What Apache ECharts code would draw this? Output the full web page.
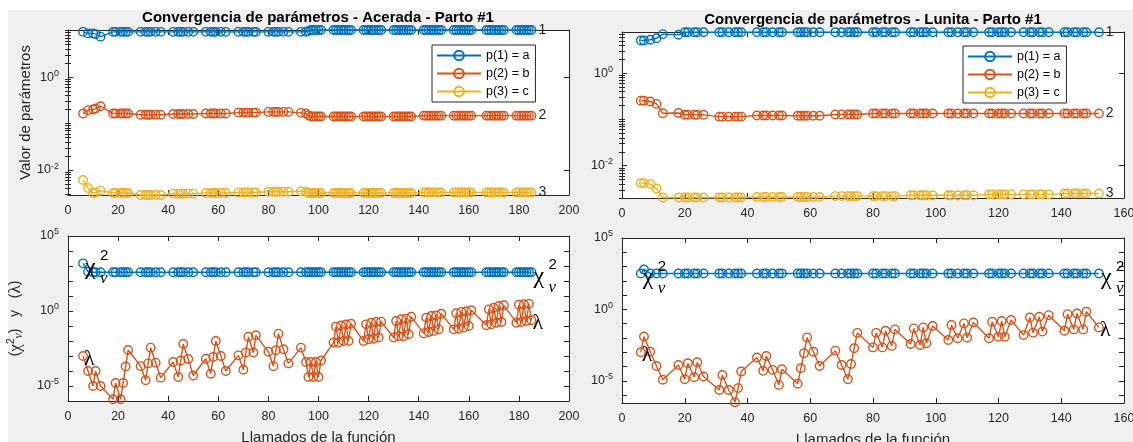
<!DOCTYPE html>
<html><head><meta charset="utf-8">
<script src="https://cdn.jsdelivr.net/npm/echarts@6/dist/echarts.min.js"></script>
<style>
html,body{margin:0;padding:0;background:#fff;width:1133px;height:442px;overflow:hidden}
#bg{position:absolute;left:8px;top:10px;width:1125px;height:432px;background:#f0f0f0}
#main{position:absolute;left:0;top:0;width:1133px;height:442px}
</style></head>
<body><div id="bg"></div><div id="main"></div>
<script>
// ---------------- DATA ----------------
const titleL = 'Convergencia de parámetros - Acerada - Parto #1';
const titleR = 'Convergencia de parámetros - Lunita - Parto #1';
const legendNames = ['p(1) = a', 'p(2) = b', 'p(3) = c'];
const endLabels = ['1', '2', '3'];
const xTicksL = [0, 20, 40, 60, 80, 100, 120, 140, 160, 180, 200];
const xTicksR = [0, 20, 40, 60, 80, 100, 120, 140, 160];
const yLabelsTop = [0.01, 1];
const yLabelsBottom = [1e-5, 1, 1e5];

// Left (Acerada)
const xL = [6,8,10,11,13, 18,19,21,22,23,24, 29,31,32,33,35,37, 42,44,45,46,48,50, 55,57,58,59,61,63,
  68,70,71,72,74,75, 80,82,83,84,86,88, 93,95,96,97,98,99,100,101,
  106,107,108,109,110,111,112,113, 118,119,120,121,122,123,124,125, 130,131,132,133,134,135,136,137,
  142,143,144,145,146,147,148,149, 154,155,156,157,158,159,160,161, 167,168,169,170,171,172,173,174,
  179,180,181,182,183,184,185];
const aL = [9.4,8.7,8.7,8.4,7.4, 9.4,9.4,9.4,9.4,9.4,9.4, 9.4,9.4,9.4,9.4,9.4,9.4, 9.4,9.4,9.4,9.4,9.4,9.4,
  9.4,9.4,9.4,9.4,9.4,9.4, 9.4,9.4,9.4,9.4,9.4,9.4, 9.4,9.4,9.4,9.4,9.4,9.4, 9.4,9.4,9.8,10.3,10.3,10.3,10.3,10.3,
  10.3,10.3,10.3,10.3,10.3,10.3,10.3,10.3, 10.3,10.3,10.3,10.3,10.3,10.3,10.3,10.3, 10.3,10.3,10.3,10.3,10.3,10.3,10.3,10.3,
  10.3,10.3,10.3,10.3,10.3,10.3,10.3,10.3, 10.3,10.3,10.3,10.3,10.3,10.3,10.3,10.3, 10.3,10.3,10.3,10.3,10.3,10.3,10.3,10.3,
  10.3,10.3,10.3,10.3,10.3,10.3,10.3];
const bL = [0.164,0.194,0.2,0.21,0.236, 0.164,0.164,0.164,0.164,0.164,0.164, 0.155,0.155,0.155,0.155,0.155,0.155,
  0.16,0.16,0.16,0.16,0.16,0.16, 0.164,0.164,0.164,0.164,0.164,0.164, 0.172,0.172,0.172,0.172,0.172,0.172,
  0.178,0.178,0.178,0.178,0.178,0.178, 0.17,0.165,0.15,0.142,0.142,0.142,0.142,0.142,
  0.142,0.142,0.142,0.142,0.142,0.142,0.142,0.142, 0.142,0.142,0.142,0.142,0.142,0.142,0.142,0.142, 0.142,0.142,0.142,0.142,0.142,0.142,0.142,0.142,
  0.148,0.148,0.148,0.148,0.148,0.148,0.148,0.148, 0.148,0.148,0.148,0.148,0.148,0.148,0.148,0.148, 0.148,0.148,0.148,0.148,0.148,0.148,0.148,0.148,
  0.148,0.148,0.148,0.148,0.148,0.148,0.148];
const cL = [0.0061,0.0041,0.0032,0.0033,0.0036, 0.0032,0.0032,0.0032,0.0032,0.0032,0.0032, 0.0029,0.0029,0.0029,0.0029,0.0029,0.0029,
  0.0031,0.0031,0.0031,0.0031,0.0031,0.0031, 0.0032,0.0032,0.0032,0.0032,0.0032,0.0032, 0.0033,0.0033,0.0033,0.0033,0.0033,0.0033,
  0.0034,0.0034,0.0034,0.0034,0.0034,0.0034, 0.0035,0.0034,0.0032,0.0032,0.0032,0.0032,0.0032,0.0032,
  0.0032,0.0032,0.0032,0.0032,0.0032,0.0032,0.0032,0.0032, 0.0032,0.0032,0.0032,0.0032,0.0032,0.0032,0.0032,0.0032, 0.0032,0.0032,0.0032,0.0032,0.0032,0.0032,0.0032,0.0032,
  0.0033,0.0033,0.0033,0.0033,0.0033,0.0033,0.0033,0.0033, 0.0033,0.0033,0.0033,0.0033,0.0033,0.0033,0.0033,0.0033, 0.0033,0.0033,0.0033,0.0033,0.0033,0.0033,0.0033,0.0033,
  0.0033,0.0033,0.0033,0.0033,0.0033,0.0033,0.0033];
const chiL = [1500,420,380,380,380, 380,380,380,380,380,380, 380,380,380,380,380,380, 380,380,380,380,380,380,
  380,380,380,380,380,380, 380,380,380,380,380,380, 380,380,380,380,380,380, 380,380,380,380,380,380,380,380,
  380,380,380,380,380,380,380,380, 380,380,380,380,380,380,380,380, 380,380,380,380,380,380,380,380,
  380,380,380,380,380,380,380,380, 380,380,380,380,380,380,380,380, 380,380,380,380,380,380,380,380,
  380,380,380,380,380,380,380];
const lamL = [1.0e-3,1.0e-4,1.0e-5,1.0e-4,1.0e-5,
  1.3e-6,1.6e-5,1.3e-6,1.6e-5,2.0e-4,2.5e-3,
  2.1e-4,2.4e-5,3.2e-4,3.6e-3,3.6e-4,3.6e-5,
  4.0e-4,4.0e-5,5.0e-4,6.3e-3,6.3e-4,5.0e-5,
  6.6e-4,6.6e-5,8.5e-4,1.0e-2,1.0e-3,1.0e-4,
  1.1e-3,1.2e-4,1.7e-3,1.9e-2,1.7e-3,2.4e-2,
  1.9e-3,2.1e-4,2.4e-3,3.1e-2,2.8e-3,3.2e-4,
  3.6e-3,4.0e-4,4.0e-5,4.0e-4,4.0e-5,4.0e-4,4.0e-5,5.0e-4,
  7.9e-3,9.1e-2,7.9e-3,0.107,1.0e-2,0.126,1.0e-2,0.141,
  1.0e-2,0.129,1.3e-2,0.166,1.4e-2,0.186,1.7e-2,0.195,
  1.7e-2,0.214,2.1e-2,0.282,2.1e-2,0.309,2.8e-2,0.417,
  3.2e-2,0.363,4.0e-2,0.468,4.7e-2,0.513,6.0e-2,0.661,
  6.0e-2,0.708,6.6e-2,0.871,7.8e-2,0.955,0.1,1.12,
  0.112,1.29,0.129,1.66,0.166,2.14,0.186,2.4,
  0.166,2.6,0.186,2.8,0.214,3.0,0.24];

// Right (Lunita)
const xR = [6,7,9,11,13, 18,20,21,23,24,26, 31,32,34,36,37,38, 43,45,46,48,50,51, 56,57,58,59,61,63,
  68,70,72,73,74,75, 80,81,83,84,86,87, 92,93,95,96,97,99, 104,105,107,109,110,112,
  117,118,120,121,122,124, 128,130,131,133,134,136, 141,142,144,145,147,148, 152];
const aR = [5.1,5.1,5.3,5.7,7.0, 6.8,7.7,7.7,7.7,7.7,7.7, 7.7,7.7,7.7,7.7,7.7,7.7, 7.7,7.7,7.7,7.7,7.7,7.7,
  7.7,7.7,7.7,7.7,7.7,7.7, 7.7,7.7,7.7,7.7,7.7,7.7, 7.7,7.7,7.7,7.7,7.7,7.7, 7.7,7.7,7.7,7.7,7.7,7.7,
  7.7,7.7,7.7,7.7,7.7,7.7, 7.7,7.7,7.7,7.7,7.7,7.7, 7.7,7.7,7.7,7.7,7.7,7.7, 7.7,7.7,7.7,7.7,7.7,7.7, 7.7];
const bR = [0.255,0.255,0.245,0.217,0.136, 0.138,0.126,0.126,0.126,0.126,0.126, 0.115,0.115,0.115,0.115,0.115,0.115,
  0.122,0.122,0.122,0.122,0.122,0.122, 0.12,0.12,0.12,0.12,0.12,0.12, 0.128,0.128,0.128,0.128,0.128,0.128,
  0.135,0.135,0.135,0.135,0.135,0.135, 0.135,0.135,0.135,0.135,0.135,0.135, 0.135,0.135,0.135,0.135,0.135,0.135,
  0.135,0.135,0.135,0.135,0.135,0.135, 0.135,0.135,0.135,0.135,0.135,0.135, 0.135,0.135,0.135,0.135,0.135,0.135, 0.135];
const cR = [0.0042,0.0042,0.004,0.0032,0.00205, 0.00205,0.00205,0.00205,0.00205,0.00205,0.00205, 0.00205,0.00205,0.00205,0.00205,0.00205,0.00205,
  0.0021,0.0021,0.0021,0.0021,0.0021,0.0021, 0.0021,0.0021,0.0021,0.0021,0.0021,0.0021, 0.0022,0.0022,0.0022,0.0022,0.0022,0.0022,
  0.0022,0.0022,0.0022,0.0022,0.0022,0.0022, 0.0023,0.0023,0.0023,0.0023,0.0023,0.0023, 0.0023,0.0023,0.0023,0.0023,0.0023,0.0023,
  0.0024,0.0024,0.0024,0.0024,0.0024,0.0024, 0.0024,0.0024,0.0024,0.0024,0.0024,0.0024, 0.0025,0.0025,0.0025,0.0025,0.0025,0.0025, 0.0025];
const chiR = [330,630,330,330,330, 330,330,330,330,330,330, 330,330,330,330,330,330, 330,330,330,330,330,330,
  330,330,330,330,330,330, 330,330,330,330,330,330, 330,330,330,330,330,330, 330,330,330,330,330,330,
  330,330,330,330,330,330, 330,330,330,330,330,330, 330,330,330,330,330,330, 330,330,330,330,330,330, 330];
const lamR = [1.0e-3,1.26e-2,1.1e-3,1.1e-4,1.2e-5,
  1.3e-4,1.3e-5,1.7e-4,1.8e-5,2.0e-4,2.0e-5,
  2.3e-6,2.6e-5,2.3e-6,3.2e-7,3.1e-6,4.5e-5,
  4.3e-4,5.0e-5,5.5e-4,5.9e-5,5.2e-6,6.5e-5,
  6.2e-6,7.6e-5,8.5e-4,1.1e-2,1.1e-3,1.1e-4,
  1.3e-3,1.3e-4,1.3e-5,1.5e-4,1.9e-3,2.3e-2,
  2.2e-3,2.3e-2,2.2e-3,3.2e-2,2.8e-3,4.0e-2,
  3.8e-3,4.7e-2,3.2e-3,5.5e-2,4.3e-3,6.9e-2,
  7.2e-3,8.1e-2,9.5e-3,0.105,1.05e-2,0.123,
  9.5e-3,0.138,1.2e-2,0.155,1.2e-2,0.182,
  1.6e-2,0.275,2.3e-2,0.309,2.8e-2,0.398,
  3.2e-2,0.468,4.0e-2,0.525,4.0e-2,0.692,
  5.5e-2];

// ---------------- STYLE / BUILD ----------------
const COLORS = ['#0072BD', '#D95319', '#EDB120'];
const AXC = '#262626';
const SANS = '"Liberation Sans", Arial, sans-serif';
const SERIF = '"Liberation Serif", "Times New Roman", serif';
const LW = 1.4;

function logTicks(min, max, mults) {
  const out = [];
  for (let e = -8; e <= 6; e++) {
    for (const k of mults) {
      const v = k * Math.pow(10, e);
      if (v >= min * 0.9999 && v <= max * 1.0001) out.push(v);
    }
  }
  return out;
}
function powLabel(v) {
  const e = Math.round(Math.log10(v));
  return '{b|10}{e|' + e + '}';
}
const powRich = {
  b: { fontSize: 12.5, color: AXC, fontFamily: SANS },
  e: { fontSize: 9, color: AXC, fontFamily: SANS, padding: [0, 0, 8, 0] }
};

const grids = [
  { left: 68, top: 30, width: 501, height: 165 },
  { left: 68, top: 236, width: 501, height: 165 },
  { left: 622, top: 32, width: 502, height: 166 },
  { left: 622, top: 238, width: 502, height: 165 }
].map(g => Object.assign({ show: true, backgroundColor: '#fff', borderWidth: 0, containLabel: false, outerBoundsMode: 'none' }, g));

const xAxes = [], yAxes = [];
function addX(g, ticks, withName) {
  const base = { type: 'value', gridIndex: g, min: ticks[0], max: ticks[ticks.length - 1], interval: ticks[1] - ticks[0],
    axisLine: { show: true, onZero: false, lineStyle: { color: AXC, width: 1 } },
    axisTick: { show: true, inside: true, length: 5, lineStyle: { color: AXC } },
    splitLine: { show: false } };
  xAxes.push(Object.assign({}, base, { position: 'bottom',
    axisLabel: { show: true, fontSize: 12.5, color: AXC, fontFamily: SANS, margin: 9 },
    name: withName ? 'Llamados de la función' : '', nameLocation: 'middle', nameGap: 29,
    nameTextStyle: { fontSize: 15, color: AXC, fontFamily: SANS, verticalAlign: 'top' } }));
  xAxes.push(Object.assign({}, base, { position: 'top', axisLabel: { show: false } }));
  return xAxes.length - 2;
}
function addY(g, min, max, majors, minors, labels, name, nameGap, nameStyle) {
  const base = { type: 'log', logBase: 10, gridIndex: g, min: min, max: max,
    axisLine: { show: true, onZero: false, lineStyle: { color: AXC, width: 1 } },
    splitLine: { show: false }, minorTick: { show: false }, axisLabel: { show: false } };
  const idx = yAxes.length;
  yAxes.push(Object.assign({}, base, { position: 'left',
    axisTick: { show: true, inside: true, length: 5, customValues: majors, lineStyle: { color: AXC } },
    axisLabel: { show: true, customValues: labels, margin: 9, formatter: powLabel, rich: powRich },
    name: name || '', nameLocation: 'middle', nameGap: nameGap || 0, nameRotate: 90,
    nameTextStyle: nameStyle || {} }));
  yAxes.push(Object.assign({}, base, { position: 'left', axisLine: { show: false },
    axisTick: { show: minors.length > 0, inside: true, length: 3, customValues: minors, lineStyle: { color: AXC } } }));
  yAxes.push(Object.assign({}, base, { position: 'right',
    axisTick: { show: true, inside: true, length: 5, customValues: majors, lineStyle: { color: AXC } } }));
  yAxes.push(Object.assign({}, base, { position: 'right', axisLine: { show: false },
    axisTick: { show: minors.length > 0, inside: true, length: 3, customValues: minors, lineStyle: { color: AXC } } }));
  return idx;
}

const series = [];
function addLine(name, xs, ys, color, xi, yi, firstLabel, lastLabel) {
  const data = xs.map((x, i) => {
    const item = { value: [x, ys[i]] };
    if (i === 0 && firstLabel) item.label = firstLabel;
    if (i === xs.length - 1 && lastLabel) item.label = lastLabel;
    return item;
  });
  series.push({ type: 'line', name: name, data: data, xAxisIndex: xi, yAxisIndex: yi,
    symbol: 'circle', symbolSize: 8.5, showAllSymbol: true, clip: false, silent: true,
    lineStyle: { color: color, width: LW },
    itemStyle: { color: 'rgba(255,255,255,0)', borderColor: color, borderWidth: LW },
    label: { show: false }, emphasis: { disabled: true }, animation: false });
}
function numLabel(t) {
  return { show: true, position: 'right', distance: 2, formatter: t, fontSize: 14, color: AXC, fontFamily: SANS };
}
const chiLabel = { show: true, position: 'inside', align: 'left', verticalAlign: 'middle', offset: [2, 4],
  formatter: '{sup|2}\n{chi|χ}\n{sub|ν}',
  rich: {
    sup: { fontSize: 15, fontFamily: SANS, color: '#000', lineHeight: 10, verticalAlign: 'middle', padding: [0, 0, 0, 15] },
    chi: { fontSize: 24, fontFamily: SERIF, color: '#000', lineHeight: 12, verticalAlign: 'middle' },
    sub: { fontSize: 17, fontFamily: SERIF, fontStyle: 'italic', color: '#000', lineHeight: 10, verticalAlign: 'middle', padding: [0, 0, 0, 15] }
  } };
const lamLabel = { show: true, position: 'inside', align: 'left', verticalAlign: 'middle', offset: [1, 3],
  formatter: 'λ', fontSize: 22, fontFamily: SERIF, color: '#000' };

const topMinorsL = logTicks(0.0029, 10.3, [1,2,3,4,5,6,7,8,9]).filter(v => !yLabelsTop.some(m => Math.abs(m - v) / m < 1e-6));
const topMinorsR = logTicks(0.002, 7.8, [1,2,3,4,5,6,7,8,9]).filter(v => !yLabelsTop.some(m => Math.abs(m - v) / m < 1e-6));
const x0 = addX(0, xTicksL, false);
const y0 = addY(0, 0.0029, 10.3, yLabelsTop, topMinorsL, yLabelsTop, 'Valor de parámetros', 34,
  { fontSize: 15, color: AXC, fontFamily: SANS });
const x1 = addX(1, xTicksL, true);
const y1 = addY(1, 1e-6, 1e5, logTicks(1e-6, 1e5, [1]), [], yLabelsBottom,
  '{p|(}{g|χ}{s|2}{n|ν}{p|)   y   (}{g|λ}{p|)}', 43,
  { rich: {
    p: { fontSize: 14, color: AXC, fontFamily: SANS },
    g: { fontSize: 17, color: AXC, fontFamily: SERIF },
    s: { fontSize: 10, color: AXC, fontFamily: SANS, padding: [0, 0, 9, 0] },
    n: { fontSize: 12, color: AXC, fontFamily: SERIF, fontStyle: 'italic', padding: [7, 0, 0, 0] }
  } });
const x2 = addX(2, xTicksR, false);
const y2 = addY(2, 0.002, 7.8, yLabelsTop, topMinorsR, yLabelsTop, '', 0, null);
const x3 = addX(3, xTicksR, true);
const y3 = addY(3, Math.pow(10, -6.55), 1e5, logTicks(1e-6, 1e5, [1]), [], yLabelsBottom, '', 0, null);

addLine(legendNames[0], xL, aL, COLORS[0], x0, y0, null, numLabel(endLabels[0]));
addLine(legendNames[1], xL, bL, COLORS[1], x0, y0, null, numLabel(endLabels[1]));
addLine(legendNames[2], xL, cL, COLORS[2], x0, y0, null, numLabel(endLabels[2]));
addLine('chi2 L', xL, chiL, COLORS[0], x1, y1, chiLabel, chiLabel);
addLine('lambda L', xL, lamL, COLORS[1], x1, y1, lamLabel, lamLabel);
addLine(legendNames[0], xR, aR, COLORS[0], x2, y2, null, numLabel(endLabels[0]));
addLine(legendNames[1], xR, bR, COLORS[1], x2, y2, null, numLabel(endLabels[1]));
addLine(legendNames[2], xR, cR, COLORS[2], x2, y2, null, numLabel(endLabels[2]));
addLine('chi2 R', xR, chiR, COLORS[0], x3, y3, chiLabel, chiLabel);
addLine('lambda R', xR, lamR, COLORS[1], x3, y3, lamLabel, lamLabel);

function legendAt(left, top) {
  return { show: true, data: legendNames, orient: 'vertical', left: left, top: top,
    backgroundColor: '#fff', borderColor: AXC, borderWidth: 1, borderRadius: 0,
    padding: [4, 6, 4, 4], itemWidth: 44, itemHeight: 12, itemGap: 5, selectedMode: false,
    textStyle: { fontSize: 12.5, color: '#000', fontFamily: SANS } };
}

const chart = echarts.init(document.getElementById('main'), null, { renderer: 'canvas' });
chart.setOption({
  animation: false,
  backgroundColor: 'transparent',
  textStyle: { fontFamily: SANS },
  grid: grids,
  xAxis: xAxes,
  yAxis: yAxes,
  legend: [legendAt(432, 45), legendAt(963, 46)],
  graphic: [
    { type: 'text', x: 318, y: 18, style: { text: titleL, align: 'center', verticalAlign: 'middle', textAlign: 'center', textVerticalAlign: 'middle', font: 'bold 15px ' + SANS, fill: '#000' } },
    { type: 'text', x: 873, y: 20, style: { text: titleR, align: 'center', verticalAlign: 'middle', textAlign: 'center', textVerticalAlign: 'middle', font: 'bold 15px ' + SANS, fill: '#000' } }
  ],
  series: series
});
</script>
</body></html>
